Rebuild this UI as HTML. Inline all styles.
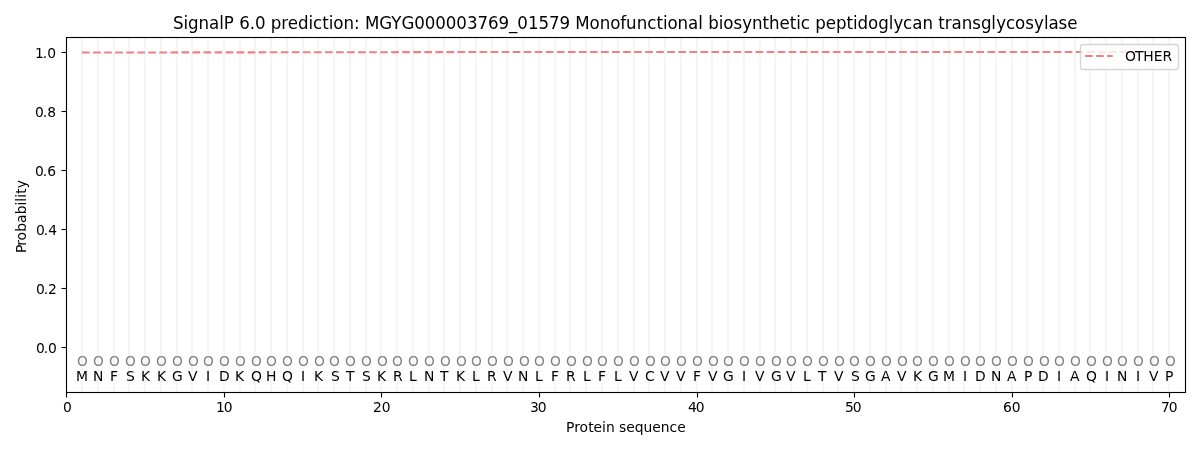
<!DOCTYPE html>
<html lang="en"><head><meta charset="utf-8"><title>SignalP 6.0 prediction</title>
<style>html,body{margin:0;padding:0;background:#fff;overflow:hidden}svg{display:block;will-change:transform}text{font-family:"DejaVu Sans","Liberation Sans",sans-serif;font-size:13.889px;fill:#000}.t{font-size:16.667px}.o text{fill:#808080}.m{text-anchor:middle}.e{text-anchor:end}</style></head><body>
<svg width="1200" height="450" viewBox="0 0 1200 450">
<g stroke="#f5f5f5" stroke-width="2.2">
<line x1="82" y1="37.33" x2="82" y2="391.72"/>
<line x1="98" y1="37.33" x2="98" y2="391.72"/>
<line x1="114" y1="37.33" x2="114" y2="391.72"/>
<line x1="129" y1="37.33" x2="129" y2="391.72"/>
<line x1="145" y1="37.33" x2="145" y2="391.72"/>
<line x1="161" y1="37.33" x2="161" y2="391.72"/>
<line x1="177" y1="37.33" x2="177" y2="391.72"/>
<line x1="192" y1="37.33" x2="192" y2="391.72"/>
<line x1="208" y1="37.33" x2="208" y2="391.72"/>
<line x1="224" y1="37.33" x2="224" y2="391.72"/>
<line x1="240" y1="37.33" x2="240" y2="391.72"/>
<line x1="255" y1="37.33" x2="255" y2="391.72"/>
<line x1="271" y1="37.33" x2="271" y2="391.72"/>
<line x1="287" y1="37.33" x2="287" y2="391.72"/>
<line x1="303" y1="37.33" x2="303" y2="391.72"/>
<line x1="318" y1="37.33" x2="318" y2="391.72"/>
<line x1="334" y1="37.33" x2="334" y2="391.72"/>
<line x1="350" y1="37.33" x2="350" y2="391.72"/>
<line x1="366" y1="37.33" x2="366" y2="391.72"/>
<line x1="381" y1="37.33" x2="381" y2="391.72"/>
<line x1="397" y1="37.33" x2="397" y2="391.72"/>
<line x1="413" y1="37.33" x2="413" y2="391.72"/>
<line x1="429" y1="37.33" x2="429" y2="391.72"/>
<line x1="444" y1="37.33" x2="444" y2="391.72"/>
<line x1="460" y1="37.33" x2="460" y2="391.72"/>
<line x1="476" y1="37.33" x2="476" y2="391.72"/>
<line x1="492" y1="37.33" x2="492" y2="391.72"/>
<line x1="507" y1="37.33" x2="507" y2="391.72"/>
<line x1="523" y1="37.33" x2="523" y2="391.72"/>
<line x1="539" y1="37.33" x2="539" y2="391.72"/>
<line x1="555" y1="37.33" x2="555" y2="391.72"/>
<line x1="570" y1="37.33" x2="570" y2="391.72"/>
<line x1="586" y1="37.33" x2="586" y2="391.72"/>
<line x1="602" y1="37.33" x2="602" y2="391.72"/>
<line x1="618" y1="37.33" x2="618" y2="391.72"/>
<line x1="634" y1="37.33" x2="634" y2="391.72"/>
<line x1="649" y1="37.33" x2="649" y2="391.72"/>
<line x1="665" y1="37.33" x2="665" y2="391.72"/>
<line x1="681" y1="37.33" x2="681" y2="391.72"/>
<line x1="697" y1="37.33" x2="697" y2="391.72"/>
<line x1="712" y1="37.33" x2="712" y2="391.72"/>
<line x1="728" y1="37.33" x2="728" y2="391.72"/>
<line x1="744" y1="37.33" x2="744" y2="391.72"/>
<line x1="760" y1="37.33" x2="760" y2="391.72"/>
<line x1="775" y1="37.33" x2="775" y2="391.72"/>
<line x1="791" y1="37.33" x2="791" y2="391.72"/>
<line x1="807" y1="37.33" x2="807" y2="391.72"/>
<line x1="823" y1="37.33" x2="823" y2="391.72"/>
<line x1="838" y1="37.33" x2="838" y2="391.72"/>
<line x1="854" y1="37.33" x2="854" y2="391.72"/>
<line x1="870" y1="37.33" x2="870" y2="391.72"/>
<line x1="886" y1="37.33" x2="886" y2="391.72"/>
<line x1="901" y1="37.33" x2="901" y2="391.72"/>
<line x1="917" y1="37.33" x2="917" y2="391.72"/>
<line x1="933" y1="37.33" x2="933" y2="391.72"/>
<line x1="949" y1="37.33" x2="949" y2="391.72"/>
<line x1="964" y1="37.33" x2="964" y2="391.72"/>
<line x1="980" y1="37.33" x2="980" y2="391.72"/>
<line x1="996" y1="37.33" x2="996" y2="391.72"/>
<line x1="1012" y1="37.33" x2="1012" y2="391.72"/>
<line x1="1027" y1="37.33" x2="1027" y2="391.72"/>
<line x1="1043" y1="37.33" x2="1043" y2="391.72"/>
<line x1="1059" y1="37.33" x2="1059" y2="391.72"/>
<line x1="1075" y1="37.33" x2="1075" y2="391.72"/>
<line x1="1090" y1="37.33" x2="1090" y2="391.72"/>
<line x1="1106" y1="37.33" x2="1106" y2="391.72"/>
<line x1="1122" y1="37.33" x2="1122" y2="391.72"/>
<line x1="1138" y1="37.33" x2="1138" y2="391.72"/>
<line x1="1153" y1="37.33" x2="1153" y2="391.72"/>
<line x1="1169" y1="37.33" x2="1169" y2="391.72"/>
</g>
<g class="m o">
<text transform="translate(82.38 366.02) scale(0.99 1.05)">O</text>
<text transform="translate(98.34 366.02) scale(0.99 1.05)">O</text>
<text transform="translate(114.30 366.02) scale(0.99 1.05)">O</text>
<text transform="translate(130.35 366.02) scale(0.99 1.05)">O</text>
<text transform="translate(145.31 366.02) scale(0.99 1.05)">O</text>
<text transform="translate(161.37 366.02) scale(0.99 1.05)">O</text>
<text transform="translate(177.32 366.02) scale(0.99 1.05)">O</text>
<text transform="translate(193.38 366.02) scale(0.99 1.05)">O</text>
<text transform="translate(208.34 366.02) scale(0.99 1.05)">O</text>
<text transform="translate(224.29 366.02) scale(0.99 1.05)">O</text>
<text transform="translate(240.35 366.02) scale(0.99 1.05)">O</text>
<text transform="translate(256.31 366.02) scale(0.99 1.05)">O</text>
<text transform="translate(271.36 366.02) scale(0.99 1.05)">O</text>
<text transform="translate(287.32 366.02) scale(0.99 1.05)">O</text>
<text transform="translate(303.38 366.02) scale(0.99 1.05)">O</text>
<text transform="translate(319.33 366.02) scale(0.99 1.05)">O</text>
<text transform="translate(334.29 366.02) scale(0.99 1.05)">O</text>
<text transform="translate(350.35 366.02) scale(0.99 1.05)">O</text>
<text transform="translate(366.30 366.02) scale(0.99 1.05)">O</text>
<text transform="translate(382.36 366.02) scale(0.99 1.05)">O</text>
<text transform="translate(397.32 366.02) scale(0.99 1.05)">O</text>
<text transform="translate(413.37 366.02) scale(0.99 1.05)">O</text>
<text transform="translate(429.33 366.02) scale(0.99 1.05)">O</text>
<text transform="translate(445.29 366.02) scale(0.99 1.05)">O</text>
<text transform="translate(461.34 366.02) scale(0.99 1.05)">O</text>
<text transform="translate(476.30 366.02) scale(0.99 1.05)">O</text>
<text transform="translate(492.36 366.02) scale(0.99 1.05)">O</text>
<text transform="translate(508.31 366.02) scale(0.99 1.05)">O</text>
<text transform="translate(524.37 366.02) scale(0.99 1.05)">O</text>
<text transform="translate(539.33 366.02) scale(0.99 1.05)">O</text>
<text transform="translate(555.38 366.02) scale(0.99 1.05)">O</text>
<text transform="translate(571.34 366.02) scale(0.99 1.05)">O</text>
<text transform="translate(587.30 366.02) scale(0.99 1.05)">O</text>
<text transform="translate(602.35 366.02) scale(0.99 1.05)">O</text>
<text transform="translate(618.31 366.02) scale(0.99 1.05)">O</text>
<text transform="translate(634.37 366.02) scale(0.99 1.05)">O</text>
<text transform="translate(650.32 366.02) scale(0.99 1.05)">O</text>
<text transform="translate(665.38 366.02) scale(0.99 1.05)">O</text>
<text transform="translate(681.34 366.02) scale(0.99 1.05)">O</text>
<text transform="translate(697.29 366.02) scale(0.99 1.05)">O</text>
<text transform="translate(713.35 366.02) scale(0.99 1.05)">O</text>
<text transform="translate(728.31 366.02) scale(0.99 1.05)">O</text>
<text transform="translate(744.36 366.02) scale(0.99 1.05)">O</text>
<text transform="translate(760.32 366.02) scale(0.99 1.05)">O</text>
<text transform="translate(776.38 366.02) scale(0.99 1.05)">O</text>
<text transform="translate(791.33 366.02) scale(0.99 1.05)">O</text>
<text transform="translate(807.29 366.02) scale(0.99 1.05)">O</text>
<text transform="translate(823.35 366.02) scale(0.99 1.05)">O</text>
<text transform="translate(839.30 366.02) scale(0.99 1.05)">O</text>
<text transform="translate(854.36 366.02) scale(0.99 1.05)">O</text>
<text transform="translate(870.32 366.02) scale(0.99 1.05)">O</text>
<text transform="translate(886.37 366.02) scale(0.99 1.05)">O</text>
<text transform="translate(902.33 366.02) scale(0.99 1.05)">O</text>
<text transform="translate(917.29 366.02) scale(0.99 1.05)">O</text>
<text transform="translate(933.34 366.02) scale(0.99 1.05)">O</text>
<text transform="translate(949.30 366.02) scale(0.99 1.05)">O</text>
<text transform="translate(965.36 366.02) scale(0.99 1.05)">O</text>
<text transform="translate(980.31 366.02) scale(0.99 1.05)">O</text>
<text transform="translate(996.37 366.02) scale(0.99 1.05)">O</text>
<text transform="translate(1012.33 366.02) scale(0.99 1.05)">O</text>
<text transform="translate(1028.38 366.02) scale(0.99 1.05)">O</text>
<text transform="translate(1044.34 366.02) scale(0.99 1.05)">O</text>
<text transform="translate(1059.30 366.02) scale(0.99 1.05)">O</text>
<text transform="translate(1075.35 366.02) scale(0.99 1.05)">O</text>
<text transform="translate(1091.31 366.02) scale(0.99 1.05)">O</text>
<text transform="translate(1107.37 366.02) scale(0.99 1.05)">O</text>
<text transform="translate(1122.32 366.02) scale(0.99 1.05)">O</text>
<text transform="translate(1138.38 366.02) scale(0.99 1.05)">O</text>
<text transform="translate(1154.34 366.02) scale(0.99 1.05)">O</text>
<text transform="translate(1170.29 366.02) scale(0.99 1.05)">O</text>
</g><g class="m">
<text x="81.88" y="380.79">M</text>
<text x="98.14" y="380.79">N</text>
<text x="113.90" y="380.79">F</text>
<text x="130.35" y="380.79">S</text>
<text x="145.51" y="380.79">K</text>
<text x="161.47" y="380.79">K</text>
<text x="177.32" y="380.79">G</text>
<text x="192.68" y="380.79">V</text>
<text x="207.94" y="380.79">I</text>
<text x="224.29" y="380.79">D</text>
<text x="239.45" y="380.79">K</text>
<text x="256.41" y="380.79">Q</text>
<text x="271.16" y="380.79">H</text>
<text x="287.42" y="380.79">Q</text>
<text x="302.98" y="380.79">I</text>
<text x="318.43" y="380.79">K</text>
<text x="335.29" y="380.79">S</text>
<text x="350.15" y="380.79">T</text>
<text x="366.30" y="380.79">S</text>
<text x="381.46" y="380.79">K</text>
<text x="397.72" y="380.79">R</text>
<text x="412.77" y="380.79">L</text>
<text x="429.13" y="380.79">N</text>
<text x="444.19" y="380.79">T</text>
<text x="460.44" y="380.79">K</text>
<text x="475.80" y="380.79">L</text>
<text x="491.76" y="380.79">R</text>
<text x="507.71" y="380.79">V</text>
<text x="523.17" y="380.79">N</text>
<text x="538.83" y="380.79">L</text>
<text x="554.88" y="380.79">F</text>
<text x="570.74" y="380.79">R</text>
<text x="586.80" y="380.79">L</text>
<text x="601.95" y="380.79">F</text>
<text x="617.81" y="380.79">L</text>
<text x="633.67" y="380.79">V</text>
<text x="649.82" y="380.79">C</text>
<text x="664.68" y="380.79">V</text>
<text x="680.64" y="380.79">V</text>
<text x="696.89" y="380.79">F</text>
<text x="712.65" y="380.79">V</text>
<text x="728.31" y="380.79">G</text>
<text x="743.96" y="380.79">I</text>
<text x="759.72" y="380.79">V</text>
<text x="776.28" y="380.79">G</text>
<text x="790.63" y="380.79">V</text>
<text x="806.79" y="380.79">L</text>
<text x="822.15" y="380.79">T</text>
<text x="838.70" y="380.79">V</text>
<text x="855.36" y="380.79">S</text>
<text x="870.32" y="380.79">G</text>
<text x="885.67" y="380.79">A</text>
<text x="901.63" y="380.79">V</text>
<text x="917.49" y="380.79">K</text>
<text x="933.34" y="380.79">G</text>
<text x="948.90" y="380.79">M</text>
<text x="964.96" y="380.79">I</text>
<text x="980.31" y="380.79">D</text>
<text x="996.17" y="380.79">N</text>
<text x="1011.63" y="380.79">A</text>
<text x="1028.08" y="380.79">P</text>
<text x="1043.24" y="380.79">D</text>
<text x="1059.00" y="380.79">I</text>
<text x="1074.65" y="380.79">A</text>
<text x="1091.41" y="380.79">Q</text>
<text x="1106.97" y="380.79">I</text>
<text x="1122.12" y="380.79">N</text>
<text x="1137.98" y="380.79">I</text>
<text x="1153.64" y="380.79">V</text>
<text x="1169.09" y="380.79">P</text>
</g>
<polyline fill="none" stroke="#f08080" stroke-width="2.0833" stroke-dasharray="7.7083 3.3333" points="82.03,52.50 300.00,52.30 460.00,52.08 1169.24,52.00"/>
<g stroke="#000" stroke-width="1.111">
<line x1="66.5" y1="393" x2="66.5" y2="397.5"/>
<line x1="224.5" y1="393" x2="224.5" y2="397.5"/>
<line x1="381.5" y1="393" x2="381.5" y2="397.5"/>
<line x1="539.5" y1="393" x2="539.5" y2="397.5"/>
<line x1="697.5" y1="393" x2="697.5" y2="397.5"/>
<line x1="854.5" y1="393" x2="854.5" y2="397.5"/>
<line x1="1012.5" y1="393" x2="1012.5" y2="397.5"/>
<line x1="1169.5" y1="393" x2="1169.5" y2="397.5"/>
<line x1="61.5" y1="347.5" x2="66" y2="347.5"/>
<line x1="61.5" y1="288.5" x2="66" y2="288.5"/>
<line x1="61.5" y1="229.5" x2="66" y2="229.5"/>
<line x1="61.5" y1="170.5" x2="66" y2="170.5"/>
<line x1="61.5" y1="111.5" x2="66" y2="111.5"/>
<line x1="61.5" y1="52.5" x2="66" y2="52.5"/>
</g>
<rect x="66.5" y="37.5" width="1119" height="355" fill="none" stroke="#000" stroke-width="1.111"/>
<text transform="translate(66.28 412.00) scale(1 1.06)" x="-3.375">0</text>
<text transform="translate(223.84 412.00) scale(1 1.04)" x="-7.938 -0.188">10</text>
<text transform="translate(381.41 412.00) scale(1 1.04)" x="-8.5 0.25">20</text>
<text transform="translate(538.98 412.00) scale(1 1.06)" x="-9.062 -1.312">30</text>
<text transform="translate(696.54 412.00) scale(1 1.03)" x="-8.625 -0.875">40</text>
<text transform="translate(854.11 412.00) scale(1 1.04)" x="-9.187 -1.437">50</text>
<text transform="translate(1011.68 412.00) scale(1 0.97)" x="-8.812 -0.062">60</text>
<text transform="translate(1169.24 412.00) scale(1 1.03)" x="-8.312 -0.562">70</text>
<text transform="translate(56.56 352.70) scale(1 0.97)" x="-20.687 -12.937 -8.687">0.0</text>
<text transform="translate(56.56 293.64) scale(1 1)" x="-20.687 -12.937 -8.687">0.2</text>
<text transform="translate(56.56 234.57) scale(1 1.03)" x="-20.687 -12.937 -8.375">0.4</text>
<text transform="translate(56.56 175.51) scale(1 1)" x="-21.687 -13.937 -9.437">0.6</text>
<text transform="translate(56.56 117.44) scale(1 1)" x="-21.687 -13.937 -9.437">0.8</text>
<text transform="translate(56.56 58.38) scale(1 0.97)" x="-21.687 -13.937 -9.437">1.0</text>
<text transform="translate(625.76 432.00) scale(1 1)" x="-59.875 -51.625 -46.375 -37.625 -32.375 -23.875 -19.875 -11.125 -6.875 0.375 8.875 17.625 26.375 34.875 43.625 51.375">Protein sequence</text>
<text transform="translate(26.02 217.03) rotate(-90) scale(1 0.97)" x="-36.062 -28.812 -23.562 -14.812 -6.062 2.688 11.438 15.188 19.188 23.188 28.688">Probability</text>
<text class="t" transform="translate(625.26 29.00) scale(1 1.07)" x="-452.375 -441.875 -437.375 -426.875 -416.375 -406.125 -401.625 -391.312 -386.125 -375.625 -370.375 -359.812 -354.625 -344.125 -337.625 -327.375 -316.875 -312.375 -303.125 -296.625 -292.125 -281.875 -271.375 -265.562 -260.375 -246.125 -234.125 -223.875 -211.125 -200.625 -190.125 -179.625 -169.125 -158.375 -147.875 -137.375 -126.874 -116.374 -108.124 -97.374 -86.874 -76.374 -65.874 -55.312 -50.124 -35.874 -25.625 -15.124 -5.125 0.875 11.438 21.938 31.188 37.688 42.126 52.188 62.626 72.876 77.562 82.938 93.438 97.876 108.126 116.876 126.626 137.125 143.625 154.125 164.375 170.875 175.375 184.688 189.875 200.375 210.688 221.188 227.625 232.188 242.688 252.875 263.438 268.188 277.875 286.875 297.188 307.688 312.938 319.375 326.188 336.375 346.875 355.625 366.125 370.938 380.625 389.625 399.938 408.688 418.625 423.188 433.125 441.875">SignalP 6.0 prediction: MGYG000003769_01579 Monofunctional biosynthetic peptidoglycan transglycosylase</text>
<rect x="1080.5" y="44.5" width="98" height="25" rx="2.78" ry="2.78" fill="#fff" stroke="#ccc" stroke-width="1.3889" opacity="0.8"/>
<line x1="1085" y1="56" x2="1112.78" y2="56" stroke="#f08080" stroke-width="2.0833" stroke-dasharray="7.7083 3.3333"/>
<text transform="translate(1124.09 61.39) scale(1 1.05)" x="0.813 10.813 19.063 29.563 38.313">OTHER</text>
</svg></body></html>
